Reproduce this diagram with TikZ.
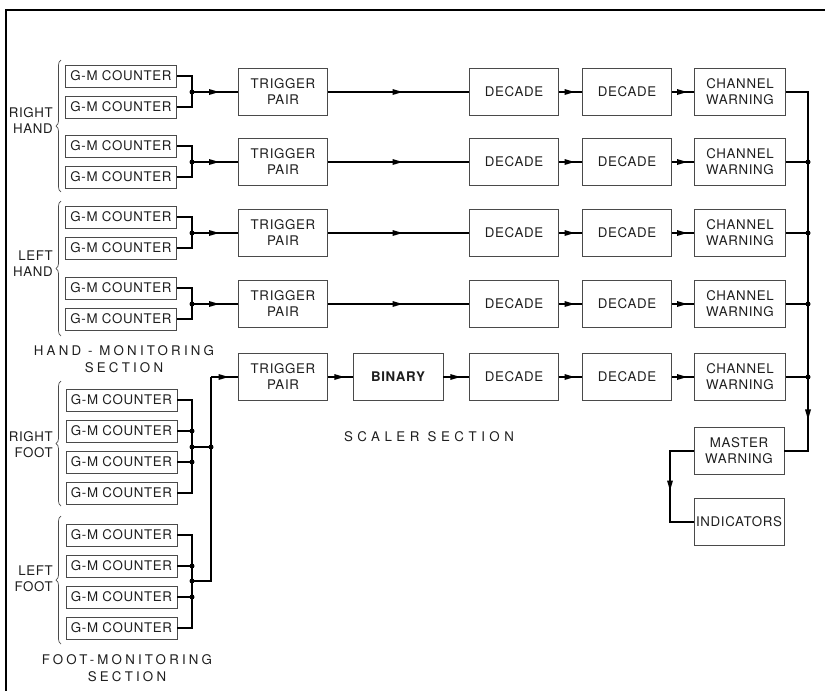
\documentclass[tikz,border=0pt]{standalone}
\usepackage{fontspec}
\setmainfont{TeX Gyre Heros}
\newfontfamily\boxface[LetterSpace=5]{TeX Gyre Heros}
\newfontfamily\secface[LetterSpace=24]{TeX Gyre Heros}
\newfontfamily\scalface[LetterSpace=34]{TeX Gyre Heros}
\usetikzlibrary{arrows.meta,decorations.markings,decorations.pathreplacing}
\definecolor{boxc}{HTML}{4A4A4A}
\definecolor{txtc}{HTML}{1E1E1E}
\newcommand\bxf{\boxface\fontsize{13.3}{16}\selectfont}
\begin{document}
\begin{tikzpicture}[x=1pt,y=-1pt,
  blk/.style={draw=boxc, line width=0.9pt, minimum width=89pt, minimum height=47pt, inner sep=1pt, align=center, font=\bxf, text=txtc},
  gm/.style={draw=boxc, line width=0.9pt, minimum width=111pt, minimum height=22pt, inner sep=1pt, font=\bxf, text=txtc},
  wire/.style={line width=1.5pt, black},
  midarr/.style={postaction={decorate}, decoration={markings, mark=at position #1 with {\fill[black] (4pt,0pt) -- (-6pt,3pt) -- (-6pt,-3pt) -- cycle;}}},
  midarr/.default=0.5,
  jdot/.style={circle, fill=black, inner sep=0pt, minimum size=5pt},
  brc/.style={decorate, decoration={brace, amplitude=5pt}, line width=0.7pt, boxc},
  lbl/.style={font=\bxf, text=txtc, align=right, anchor=east, inner sep=0pt},
  sec/.style={font=\secface\fontsize{13.3}{16.5}\selectfont, text=txtc, align=center, inner sep=0pt}
]
\useasboundingbox (0,0) rectangle (825,691);
% frame
\draw[line width=2pt, black] (825,10) -- (6,10) -- (6,691);

% hand rows
\foreach \r/\y in {1/92, 2/162, 3/233, 4/304} {
  \node[gm] (g\r a) at (121,\y-16) {G-M COUNTER};
  \node[gm] (g\r b) at (121,\y+15) {G-M COUNTER};
  \node[blk] (t\r) at (283,\y) {TRIGGER\\PAIR};
  \node[blk] (d\r a) at (514,\y) {DECADE};
  \node[blk] (d\r b) at (627,\y) {DECADE};
  \node[blk, minimum width=91pt] (w\r) at (740,\y) {CHANNEL\\WARNING};
  \coordinate (j\r) at (192,\y);
  \coordinate (k\r) at (808,\y);
  \draw[wire] (g\r a.east) -| (j\r) |- (g\r b.east);
  \draw[wire, midarr] (j\r) -- (t\r.west);
  \draw[wire, midarr] (t\r.east) -- (d\r a.west);
  \draw[wire, midarr] (d\r a.east) -- (d\r b.west);
  \draw[wire, midarr] (d\r b.east) -- (w\r.west);
  \node[jdot] at (j\r) {};
}

% foot row
\node[blk] (t5) at (283,377) {TRIGGER\\PAIR};
\node[blk, minimum width=90pt] (b5) at (398,377) {\bfseries BINARY};
\node[blk] (d5a) at (514,377) {DECADE};
\node[blk] (d5b) at (627,377) {DECADE};
\node[blk, minimum width=91pt] (w5) at (740,377) {CHANNEL\\WARNING};
\coordinate (k5) at (808,377);
\draw[wire, midarr] (t5.east) -- (b5.west);
\draw[wire, midarr] (b5.east) -- (d5a.west);
\draw[wire, midarr] (d5a.east) -- (d5b.west);
\draw[wire, midarr] (d5b.east) -- (w5.west);

% master warning / indicators
\node[blk, minimum width=90pt] (mw) at (739,451) {MASTER\\WARNING};
\node[blk, minimum width=90pt] (ind) at (739,522) {INDICATORS};
\coordinate (k6) at (808,451);
\draw[wire, midarr=0.854] (w1.east) -| (k6) -- (mw.east);
\foreach \r in {2,3,4,5} {
  \draw[wire] (w\r.east) -- (k\r);
  \node[jdot] at (k\r) {};
}
\coordinate (m1) at (670,451);
\coordinate (m2) at (670,522);
\draw[wire, midarr] (mw.west) -- (m1) -- (m2) -- (ind.west);

% foot counters
\foreach \i/\y in {1/400, 2/431, 3/462, 4/493, 5/535, 6/566, 7/597, 8/628} {
  \node[gm] (f\i) at (121.5,\y) {G-M COUNTER};
}
\coordinate (rfm) at (192,447);
\coordinate (lfm) at (192,581);
\coordinate (fj) at (211,447);
\coordinate (lc) at (211,581);
\coordinate (tc) at (211,377);
\draw[wire] (f1.east) -| (rfm) |- (f4.east);
\draw[wire] (f2.east) -- (f2.east -| rfm);
\draw[wire] (f3.east) -- (f3.east -| rfm);
\draw[wire] (f5.east) -| (lfm) |- (f8.east);
\draw[wire] (f6.east) -- (f6.east -| lfm);
\draw[wire] (f7.east) -- (f7.east -| lfm);
\draw[wire] (rfm) -- (fj);
\draw[wire] (lfm) -- (lc) -- (tc);
\draw[wire, midarr] (tc) -- (t5.west);
\foreach \p in {f2,f3,f6,f7} { \node[jdot] at (\p.east -| rfm) {}; }
\node[jdot] at (rfm) {};
\node[jdot] at (lfm) {};
\node[jdot] at (fj) {};

% braces
\draw[brc] (61,192) -- (61,60);
\draw[brc] (61,336) -- (61,201);
\draw[brc] (61,506) -- (61,381);
\draw[brc] (61,644) -- (61,516);

% labels
\node[lbl] (lrh) at (53,121) {RIGHT\\HAND};
\node[lbl] (llh) at (53,264) {LEFT\\HAND};
\node[lbl] (lrf) at (53,445) {RIGHT\\FOOT};
\node[lbl] (llf) at (53,579) {LEFT\\FOOT};
\node[sec] (hms) at (124,359) {HAND - MONITORING\\SECTION};
\node[sec] (fms) at (127,668) {FOOT-MONITORING\\SECTION};
\node[sec, font=\scalface\fontsize{13.3}{16}\selectfont] (scs) at (429,437) {SCALER SECTION};
\end{tikzpicture}
\end{document}
